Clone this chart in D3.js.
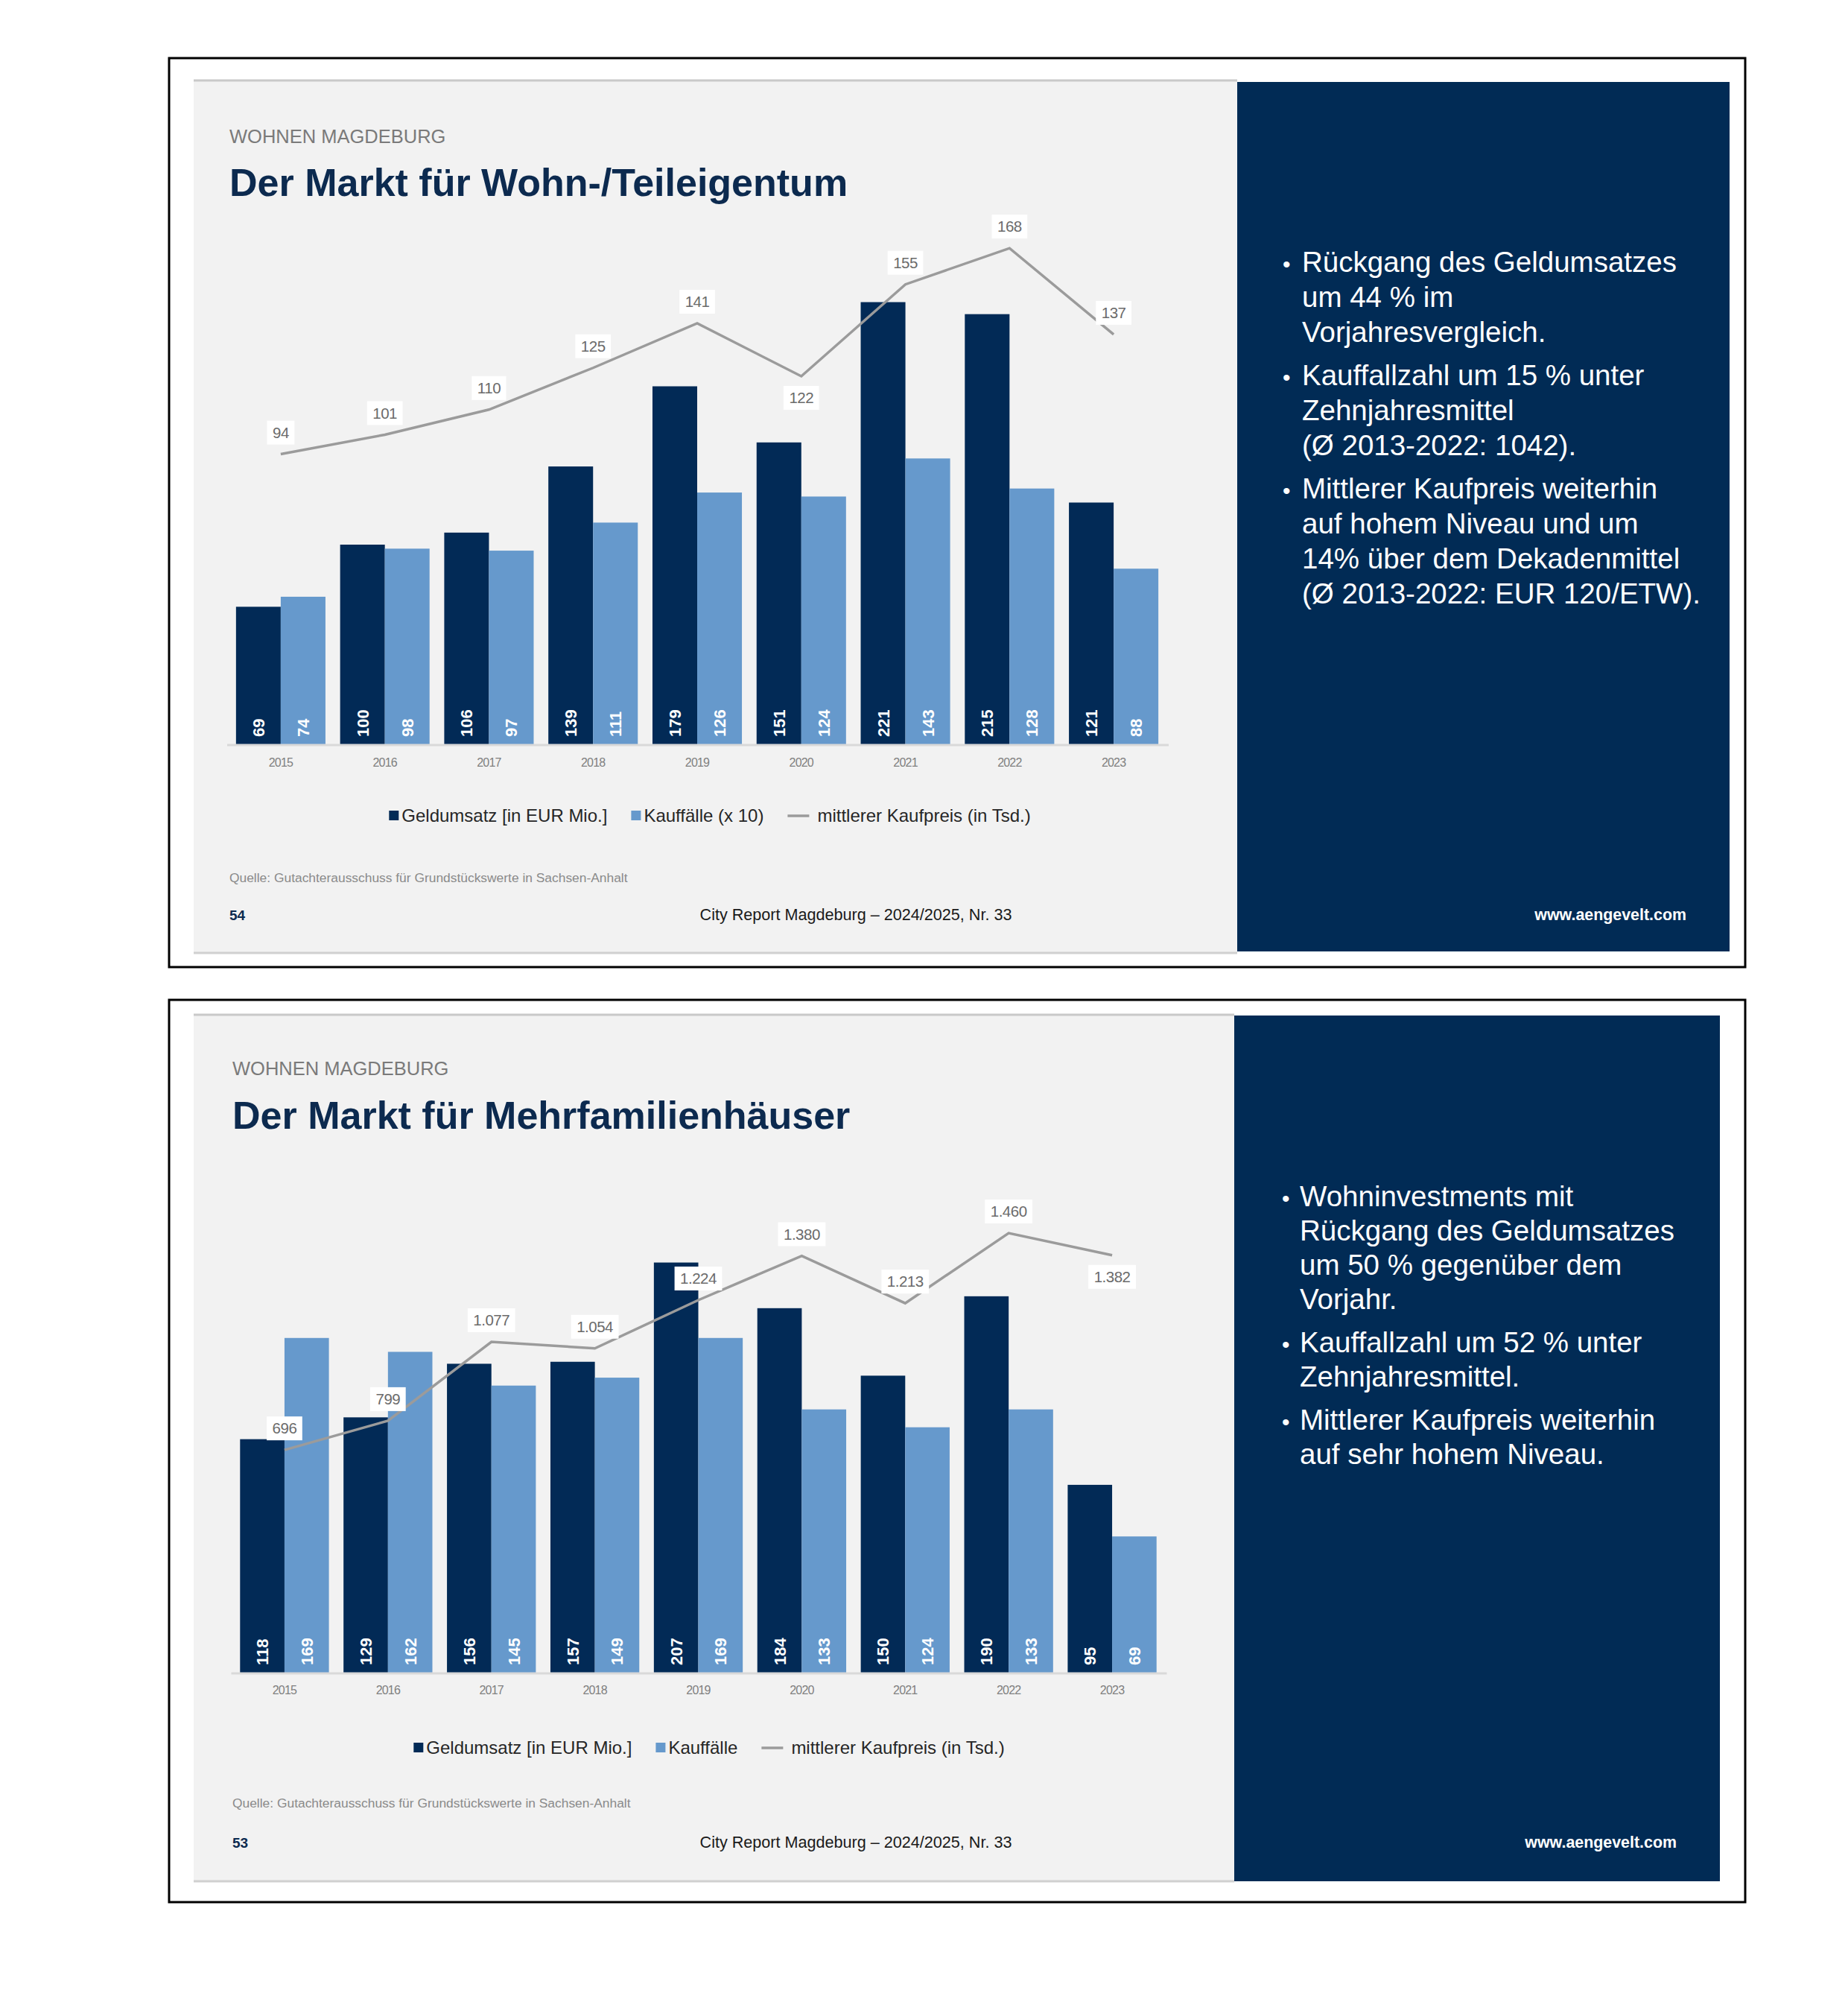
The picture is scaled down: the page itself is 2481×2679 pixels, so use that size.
<!DOCTYPE html>
<html>
<head>
<meta charset="utf-8">
<script src="https://cdn.jsdelivr.net/npm/d3@7"></script>
<style>
  body { margin: 0; background: #fff; }
  svg { display: block; font-family: 'Liberation Sans', Arial, sans-serif; }
</style>
</head>
<body>
<svg id="page" width="2481" height="2679"></svg>
<script>
const years = ['2015', '2016', '2017', '2018', '2019', '2020', '2021', '2022', '2023']

const wohnGeldumsatz = [69, 100, 106, 139, 179, 151, 221, 215, 121]
const wohnKauffaelle = [74, 98, 97, 111, 126, 124, 143, 128, 88]
const wohnKaufpreis = [94, 101, 110, 125, 141, 122, 155, 168, 137]

const mfhGeldumsatz = [118, 129, 156, 157, 207, 184, 150, 190, 95]
const mfhKauffaelle = [169, 162, 145, 149, 169, 133, 124, 133, 69]
const mfhKaufpreis = [696, 799, 1077, 1054, 1224, 1380, 1213, 1460, 1382]

const wohnLegend = ['Geldumsatz [in EUR Mio.]', 'Kauffälle (x 10)', 'mittlerer Kaufpreis (in Tsd.)']
const mfhLegend = ['Geldumsatz [in EUR Mio.]', 'Kauffälle', 'mittlerer Kaufpreis (in Tsd.)']

const wohnBullets = [
  ['Rückgang des Geldumsatzes', 'um 44 % im', 'Vorjahresvergleich.'],
  ['Kauffallzahl um 15 % unter', 'Zehnjahresmittel', '(Ø 2013-2022: 1042).'],
  ['Mittlerer Kaufpreis weiterhin', 'auf hohem Niveau und um', '14% über dem Dekadenmittel', '(Ø 2013-2022: EUR 120/ETW).']
]
const mfhBullets = [
  ['Wohninvestments mit', 'Rückgang des Geldumsatzes', 'um 50 % gegenüber dem', 'Vorjahr.'],
  ['Kauffallzahl um 52 % unter', 'Zehnjahresmittel.'],
  ['Mittlerer Kaufpreis weiterhin', 'auf sehr hohem Niveau.']
]

const kicker = 'WOHNEN MAGDEBURG'
const source = 'Quelle: Gutachterausschuss für Grundstückswerte in Sachsen-Anhalt'
const footer = 'City Report Magdeburg – 2024/2025, Nr. 33'
const website = 'www.aengevelt.com'

const colors = {
  dark: '#022a56',
  light: '#6699cc',
  line: '#9b9b9b',
  navy: '#012b55',
  slide: '#f2f2f2'
}

const deNum = d3.formatLocale({ decimal: ',', thousands: '.', grouping: [3], currency: ['', ' €'] }).format(',')

const slides = [
  {
    title: 'Der Markt für Wohn-/Teileigentum',
    page: '54',
    geld: wohnGeldumsatz, kauf: wohnKauffaelle, preis: wohnKaufpreis,
    legend: wohnLegend, bullets: wohnBullets,
    labelBelow: [5],
    frame: { x: 227, y: 78, w: 2116, h: 1220 },
    sheet: { x: 260, y: 108, w: 1401, h: 1171 },
    navy: { x: 1661, y: 110, w: 661, h: 1167 },
    textX: 308, kickerY: 192, titleY: 263,
    plot: { x0: 307, x1: 1565, base: 1000, top: 327.5, lineDomain: [-10.5, 169.5] },
    yearY: 1029, legendY: 1095, legendCx: 953,
    sourceY: 1184, footY: 1235,
    bullet: { x: 1722, tx: 1748, y: 365, lh: 47, gap: 11 }
  },
  {
    title: 'Der Markt für Mehrfamilienhäuser',
    page: '53',
    geld: mfhGeldumsatz, kauf: mfhKauffaelle, preis: mfhKaufpreis,
    legend: mfhLegend, bullets: mfhBullets,
    labelBelow: [8],
    frame: { x: 227, y: 1342, w: 2116, h: 1211 },
    sheet: { x: 260, y: 1362, w: 1397, h: 1163 },
    navy: { x: 1657, y: 1363, w: 652, h: 1162 },
    textX: 312, kickerY: 1443, titleY: 1515,
    plot: { x0: 312.5, x1: 1562.5, base: 2246, top: 1580, lineDomain: [-91, 1657] },
    yearY: 2274, legendY: 2346, legendCx: 952,
    sourceY: 2426, footY: 2480,
    bullet: { x: 1721, tx: 1745, y: 1619, lh: 46, gap: 12 }
  }
]

const svg = d3.select('#page')

slides.forEach(s => drawSlide(s))

function drawSlide(s) {
  const g = svg.append('g').attr('class', 'slide')

  // frame + sheet + navy side panel
  g.append('rect')
    .attr('x', s.frame.x).attr('y', s.frame.y)
    .attr('width', s.frame.w).attr('height', s.frame.h)
    .attr('fill', '#fff').attr('stroke', '#000').attr('stroke-width', 3)

  g.append('rect')
    .attr('x', s.sheet.x).attr('y', s.sheet.y)
    .attr('width', s.sheet.w).attr('height', s.sheet.h)
    .attr('fill', colors.slide)

  g.append('line')
    .attr('x1', s.sheet.x).attr('x2', s.sheet.x + s.sheet.w)
    .attr('y1', s.sheet.y).attr('y2', s.sheet.y)
    .attr('stroke', '#c9c9c9').attr('stroke-width', 3)
  g.append('line')
    .attr('x1', s.sheet.x).attr('x2', s.sheet.x + s.sheet.w)
    .attr('y1', s.sheet.y + s.sheet.h).attr('y2', s.sheet.y + s.sheet.h)
    .attr('stroke', '#d0d0d0').attr('stroke-width', 3)

  g.append('rect')
    .attr('x', s.navy.x).attr('y', s.navy.y)
    .attr('width', s.navy.w).attr('height', s.navy.h)
    .attr('fill', colors.navy)

  // headings
  g.append('text')
    .attr('x', s.textX).attr('y', s.kickerY)
    .attr('font-size', 25.5).attr('fill', '#7a7a7a')
    .text(kicker)
  g.append('text')
    .attr('x', s.textX).attr('y', s.titleY)
    .attr('font-size', 52).attr('font-weight', 'bold').attr('fill', '#0c2a4f')
    .text(s.title)

  drawChart(g, s)
  drawLegend(g, s)

  // source + footer
  g.append('text')
    .attr('x', s.textX).attr('y', s.sourceY)
    .attr('font-size', 17.4).attr('fill', '#8a8a8a')
    .text(source)
  g.append('text')
    .attr('x', s.textX).attr('y', s.footY)
    .attr('font-size', 19).attr('font-weight', 'bold').attr('fill', '#0c2a4f')
    .text(s.page)
  g.append('text')
    .attr('x', 1149).attr('y', s.footY)
    .attr('text-anchor', 'middle')
    .attr('font-size', 21.6).attr('fill', '#1a1a1a')
    .text(footer)
  g.append('text')
    .attr('x', s.navy.x + s.navy.w - 58).attr('y', s.footY)
    .attr('text-anchor', 'end')
    .attr('font-size', 21.4).attr('font-weight', 'bold').attr('fill', '#fff')
    .text(website)

  // bullet points
  let y = s.bullet.y
  s.bullets.forEach(lines => {
    g.append('text')
      .attr('x', s.bullet.x).attr('y', y)
      .attr('font-size', 30).attr('fill', '#fff')
      .text('•')
    lines.forEach(line => {
      g.append('text')
        .attr('x', s.bullet.tx).attr('y', y)
        .attr('font-size', 38.5).attr('fill', '#fff')
        .text(line)
      y += s.bullet.lh
    })
    y += s.bullet.gap
  })
}

function drawChart(g, s) {
  const p = s.plot
  const rows = years.map((yr, i) => ({ year: yr, geld: s.geld[i], kauf: s.kauf[i], preis: s.preis[i], i: i }))

  const x = d3.scaleBand().domain(years).range([p.x0, p.x1]).paddingInner(0.141).paddingOuter(0.0705)
  const xSub = d3.scaleBand().domain(['geld', 'kauf']).range([0, x.bandwidth()])
  const y = d3.scaleLinear().domain([0, 250]).range([p.base, p.top])
  const yLine = d3.scaleLinear().domain(p.lineDomain).range([p.base, p.top])

  const chart = g.append('g').attr('class', 'chart')

  // bars
  const groups = chart.selectAll('g.year').data(rows)
    .enter().append('g')
      .attr('class', 'year')
      .attr('transform', d => `translate(${x(d.year)},0)`)

  const barData = d => [
    { key: 'geld', value: d.geld, color: colors.dark },
    { key: 'kauf', value: d.kauf, color: colors.light }
  ]

  groups.selectAll('rect').data(barData)
    .enter().append('rect')
      .attr('x', d => xSub(d.key))
      .attr('y', d => y(d.value))
      .attr('width', xSub.bandwidth())
      .attr('height', d => y(0) - y(d.value))
      .attr('fill', d => d.color)

  groups.selectAll('text.bar-label').data(barData)
    .enter().append('text')
      .attr('class', 'bar-label')
      .attr('transform', d => `translate(${xSub(d.key) + xSub.bandwidth() / 2 + 8},${p.base - 11}) rotate(-90)`)
      .attr('font-size', 22).attr('font-weight', 'bold').attr('fill', '#fff')
      .text(d => d.value)

  // x axis
  const axis = chart.append('g')
    .attr('transform', `translate(0,${p.base})`)
    .call(d3.axisBottom(x).tickSize(0).tickPadding(0))
  axis.select('.domain').remove()
  axis.append('line')
    .attr('x1', p.x0 - 2).attr('x2', p.x1 + 4)
    .attr('stroke', '#d9d9d9').attr('stroke-width', 3)
  axis.selectAll('.tick text')
    .attr('y', s.yearY - p.base).attr('dy', 0)
    .attr('font-family', "'Liberation Sans', Arial, sans-serif")
    .attr('font-size', 16).attr('fill', '#808080')
    .attr('letter-spacing', -0.8)

  // mean price line
  const line = d3.line()
    .x(d => x(d.year) + x.bandwidth() / 2)
    .y(d => yLine(d.preis))

  chart.append('path')
    .datum(rows)
    .attr('d', line)
    .attr('fill', 'none')
    .attr('stroke', colors.line)
    .attr('stroke-width', 3.5)
    .attr('stroke-linejoin', 'miter')

  const labels = chart.selectAll('g.line-label').data(rows)
    .enter().append('g')
      .attr('class', 'line-label')
      .attr('transform', d => {
        const dy = s.labelBelow.includes(d.i) ? 29 : -29
        return `translate(${x(d.year) + x.bandwidth() / 2},${yLine(d.preis) + dy})`
      })

  labels.append('text')
    .attr('text-anchor', 'middle')
    .attr('dy', '0.35em')
    .attr('font-size', 20.5).attr('fill', '#6b6b6b')
    .attr('letter-spacing', -0.5)
    .text(d => deNum(d.preis))

  labels.insert('rect', 'text')
    .each(function () {
      const w = this.parentNode.querySelector('text').getComputedTextLength() + 15
      d3.select(this)
        .attr('x', -w / 2).attr('y', -16)
        .attr('width', w).attr('height', 32)
        .attr('fill', '#fff')
    })
}

function drawLegend(g, s) {
  const items = [
    { label: s.legend[0], type: 'box', color: colors.dark },
    { label: s.legend[1], type: 'box', color: colors.light },
    { label: s.legend[2], type: 'line', color: colors.line }
  ]
  const legend = g.append('g').attr('class', 'legend')
  const entries = legend.selectAll('g').data(items)
    .enter().append('g')

  entries.each(function (d) {
    const e = d3.select(this)
    if (d.type === 'box') {
      e.append('rect')
        .attr('x', 0).attr('y', -7).attr('width', 13).attr('height', 13)
        .attr('fill', d.color)
      e.append('text')
        .attr('x', 17).attr('dy', '0.35em')
        .attr('font-size', 24).attr('fill', '#262626')
        .text(d.label)
    } else {
      e.append('line')
        .attr('x1', 0).attr('x2', 29).attr('y1', 0).attr('y2', 0)
        .attr('stroke', d.color).attr('stroke-width', 3.5)
      e.append('text')
        .attr('x', 40).attr('dy', '0.35em')
        .attr('font-size', 24).attr('fill', '#262626')
        .text(d.label)
    }
  })

  let offset = 0
  const widths = []
  entries.each(function () {
    widths.push(this.getBBox().width)
  })
  const total = d3.sum(widths) + 32 * (widths.length - 1)
  entries.attr('transform', (d, i) => {
    const tx = s.legendCx - total / 2 + offset
    offset += widths[i] + 32
    return `translate(${tx},${s.legendY})`
  })
}
</script>
</body>
</html>
